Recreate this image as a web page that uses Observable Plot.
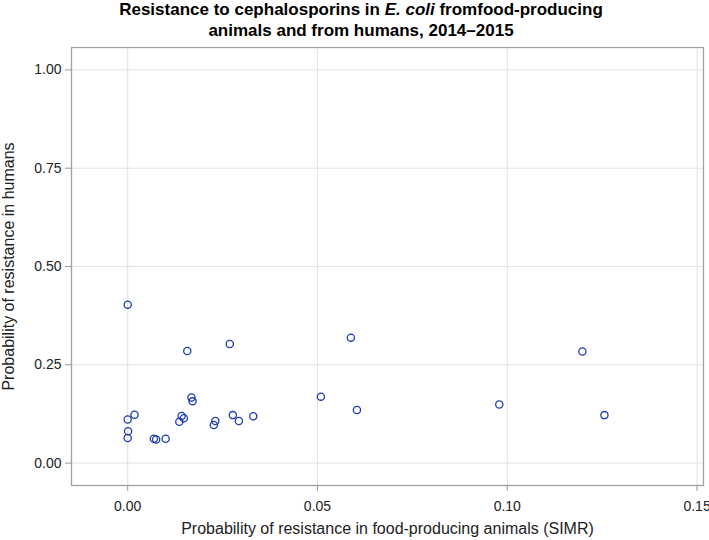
<!DOCTYPE html>
<html>
<head>
<meta charset="utf-8">
<script src="https://cdn.jsdelivr.net/npm/d3@7"></script>
<script src="https://cdn.jsdelivr.net/npm/@observablehq/plot@0.6"></script>
<style>
  body { margin: 0; background: #fff; }
  #title { width: 709px; height: 44px; box-sizing: border-box; padding-left: 13px; text-align: center;
    font-family: "Liberation Sans", Arial, sans-serif; font-weight: bold; font-size: 17px; line-height: 21px;
    color: #000; position: relative; top: -1px; overflow: visible; }
  #chart { line-height: 0; }
</style>
</head>
<body>
<div id="title">Resistance to cephalosporins in <i>E. coli</i> fromfood-producing<br>animals and from humans, 2014–2015</div>
<div id="chart"></div>
<script>
const animalSIMR = [0.0000, 0.0157, 0.0269, 0.0588, 0.1198, 0.0000, 0.0018, 0.0001, 0.0000, 0.0069, 0.0075, 0.0100, 0.0142, 0.0148, 0.0136, 0.0168, 0.0171, 0.0231, 0.0227, 0.0277, 0.0293, 0.0331, 0.0509, 0.0604, 0.0979, 0.1256];
const humanProb = [0.403, 0.285, 0.303, 0.319, 0.284, 0.111, 0.123, 0.081, 0.064, 0.062, 0.060, 0.062, 0.120, 0.114, 0.105, 0.167, 0.157, 0.107, 0.097, 0.122, 0.107, 0.119, 0.169, 0.135, 0.149, 0.122];
const xTicks = [0, 0.05, 0.10, 0.15];
const yTicks = [0, 0.25, 0.50, 0.75, 1.00];
const xLabel = "Probability of resistance in food-producing animals (SIMR)";
const yLabel = "Probability of resistance in humans";

const data = animalSIMR.map((x, i) => ({x, y: humanProb[i]}));
const fmt = d3.format(".2f");

const chart = Plot.plot({
  width: 709,
  height: 496,
  marginLeft: 71,
  marginRight: 6,
  marginTop: 3,
  marginBottom: 55,
  style: {fontFamily: "'Liberation Sans', Arial, sans-serif", fontSize: "14px", color: "#222", background: "#fff"},
  x: {domain: [-0.0148, 0.1517]},
  y: {domain: [-0.057, 1.057]},
  marks: [
    Plot.gridX(xTicks, {stroke: "#e3e3e3", strokeOpacity: 1, strokeWidth: 1}),
    Plot.gridY(yTicks, {stroke: "#e3e3e3", strokeOpacity: 1, strokeWidth: 1}),
    Plot.frame({stroke: "#a0a0a0", strokeWidth: 1.3}),
    Plot.axisX(xTicks, {tickFormat: fmt, tickSize: 6, tickPadding: 10, stroke: "#999", fontSize: 14, label: null}),
    Plot.axisX({label: xLabel, labelAnchor: "center", labelArrow: "none", labelOffset: 48, ticks: [], tickSize: 0, fontSize: 16}),
    Plot.axisY(yTicks, {tickFormat: fmt, tickSize: 6, tickPadding: 4, stroke: "#999", fontSize: 14, label: null}),
    Plot.axisY({label: yLabel, labelAnchor: "center", labelArrow: "none", labelOffset: 69, ticks: [], tickSize: 0, fontSize: 16}),
    Plot.dot(data, {x: "x", y: "y", r: 3.6, stroke: "#1e3cb4", strokeWidth: 1.3, fill: "none"})
  ]
});
document.getElementById("chart").appendChild(chart);
</script>
</body>
</html>
